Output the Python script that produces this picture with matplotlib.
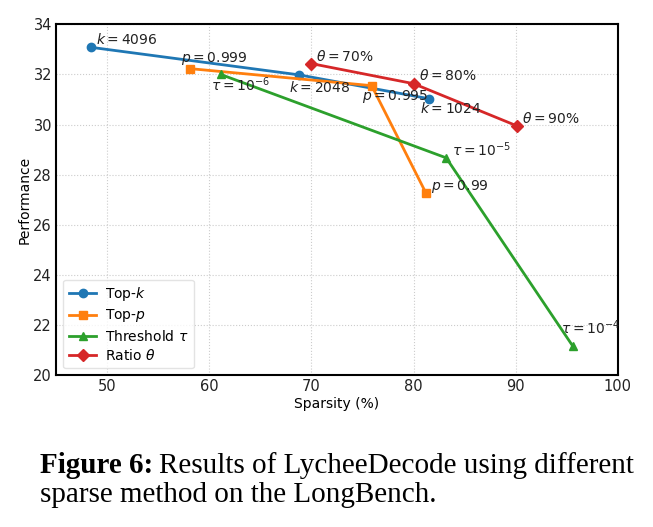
import numpy as np
import matplotlib
matplotlib.use('Agg')
import matplotlib.pyplot as plt

# Data
topk_x = [48.4, 68.8, 81.5]
topk_y = [33.08, 31.98, 31.03]
topk_lbl = [r'$k=4096$', r'$k=2048$', r'$k=1024$']

topp_x = [58.1, 75.9, 81.2]
topp_y = [32.23, 31.55, 27.28]
topp_lbl = [r'$p=0.999$', r'$p=0.995$', r'$p=0.99$']

thr_x = [61.1, 83.2, 95.6]
thr_y = [32.0, 28.67, 21.16]
thr_lbl = [r'$\tau=10^{-6}$', r'$\tau=10^{-5}$', r'$\tau=10^{-4}$']

ratio_x = [70.0, 80.0, 90.1]
ratio_y = [32.43, 31.63, 29.95]
ratio_lbl = [r'$\theta=70\%$', r'$\theta=80\%$', r'$\theta=90\%$']

plt.rcParams['mathtext.fontset'] = 'dejavusans'

fig = plt.figure(figsize=(6.53, 5.27), dpi=100)
ax = fig.add_axes([0.086, 0.288, 0.86, 0.666])

ax.plot(topk_x, topk_y, '-o', color='#1f77b4', lw=2, ms=6, label=r'Top-$k$')
ax.plot(topp_x, topp_y, '-s', color='#ff7f0e', lw=2, ms=6, label=r'Top-$p$')
ax.plot(thr_x, thr_y, '-^', color='#2ca02c', lw=2, ms=6, label=r'Threshold $\tau$')
ax.plot(ratio_x, ratio_y, '-D', color='#d62728', lw=2, ms=6, label=r'Ratio $\theta$')

# label offsets in pixels (dx, dy)
def label_points(xs, ys, labels, offsets):
    for x, y, t, (dx, dy) in zip(xs, ys, labels, offsets):
        ax.annotate(t, (x, y), xytext=(dx, dy), textcoords='offset pixels',
                    ha='left', va='center', fontsize=10, color='#222222')

label_points(topk_x, topk_y, topk_lbl, [(5, 8), (-10, -13), (-9, -10)])
label_points(topp_x, topp_y, topp_lbl, [(-9, 10), (-10, -11), (5, 6)])
label_points(thr_x, thr_y, thr_lbl, [(-10, -10), (6, 8), (-12, 18)])
label_points(ratio_x, ratio_y, ratio_lbl, [(5, 7), (5, 8), (5, 7)])

ax.set_xlim(45, 100)
ax.set_ylim(20, 34)
ax.set_xticks([50, 60, 70, 80, 90, 100])
ax.set_yticks([20, 22, 24, 26, 28, 30, 32, 34])
ax.grid(True, linestyle=':', color='#cccccc', lw=0.8)
ax.set_axisbelow(True)
for s in ax.spines.values():
    s.set_color('black')
    s.set_linewidth(1.5)
ax.tick_params(labelsize=10.5, colors='#222222', length=0, pad=3)
ax.set_xlabel('Sparsity (%)', fontsize=10, labelpad=2)
ax.set_ylabel('Performance', fontsize=10, labelpad=1)

leg = ax.legend(loc='lower left', fontsize=10, frameon=True, fancybox=True,
                framealpha=0.8, edgecolor='#dddddd', borderpad=0.4,
                labelspacing=0.3, handlelength=2.0, handletextpad=0.6)

# caption
cap_fs = 21
t1 = fig.text(0.061, 0.1025, 'Figure 6:', fontsize=cap_fs, fontweight='bold',
              family='Liberation Serif', ha='left', va='baseline')
fig.canvas.draw()
bb = t1.get_window_extent()
x2 = (bb.x1 + 6) / fig.bbox.width
fig.text(x2, 0.1025, 'Results of LycheeDecode using different', fontsize=cap_fs,
         family='Liberation Serif', ha='left', va='baseline')
fig.text(0.061, 0.047, 'sparse method on the LongBench.', fontsize=cap_fs,
         family='Liberation Serif', ha='left', va='baseline')

fig.savefig('out.png', dpi=100)
